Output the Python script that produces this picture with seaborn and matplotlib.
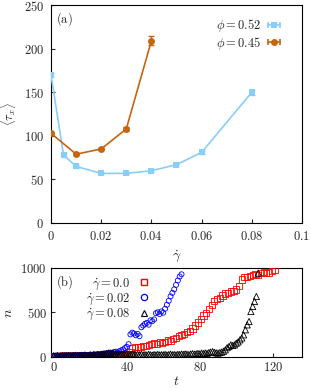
import numpy as np
import pandas as pd
import matplotlib
matplotlib.use("Agg")
import matplotlib.pyplot as plt
import seaborn as sns
from matplotlib.lines import Line2D
from matplotlib.legend_handler import HandlerTuple, HandlerLine2D

# panel (a): mean tau_x vs shear rate
rate_052 = [0.0, 0.005, 0.01, 0.02, 0.03, 0.04, 0.05, 0.06, 0.08]
tau_052 = [170, 78, 65, 57, 57, 60, 67, 81, 150]
err_052 = [2, 2, 2, 1, 1, 1, 1, 2, 3]
rate_045 = [0.0, 0.01, 0.02, 0.03, 0.04]
tau_045 = [103, 79, 85, 108, 209]
err_045 = [2, 1, 1, 2, 5]

# panel (b): n vs t
t_00 = [0, 1, 2, 3, 4, 5, 6, 7, 8, 9,
        10, 11, 12, 13, 14, 15, 16, 17, 18, 19,
        20, 21, 22, 23, 24, 25, 26, 27, 28, 29,
        30, 31, 32, 33, 34, 35, 36, 37, 38, 39,
        40, 41, 42,
        43, 44.5, 46, 47.5, 49, 50.5, 52, 53.5, 55, 56.5,
        58, 59.5, 61, 62.5, 64, 65.5, 67, 68.5, 70, 71.5,
        73, 74.5, 76, 77.5, 79, 80.5, 82, 83.5, 85, 86.5,
        88, 89.5, 91, 92.5, 94, 95.5, 97, 98.5, 100, 101.5,
        103, 104.5, 106, 107.5, 109, 110.5, 112, 113.5, 115, 116.5,
        118, 119.5, 121]
n_00 = [5, 8, 3, 10, 6, 12, 4, 9, 7, 11,
        6, 10, 8, 14, 9, 12, 7, 15, 10, 13,
        11, 16, 9, 14, 18, 12, 15, 20, 13, 17,
        22, 15, 19, 25, 18, 21, 16, 24, 20, 28,
        25, 30, 45,
        100, 110, 112, 108, 122, 120, 133, 138, 148, 145,
        160, 155, 168, 180, 178, 195, 210, 228, 245, 255,
        275, 292, 318, 350, 385, 425, 465, 495, 535, 580,
        625, 648, 662, 690, 712, 720, 735, 742, 758, 800,
        870, 895, 900, 915, 920, 930, 922, 948, 955, 942,
        950, 968, 982]

t_002 = [0, 1, 2, 3, 4, 5, 6, 7, 8, 9,
         10, 11, 12, 13, 14, 15, 16, 17, 18, 19,
         20, 21, 22, 23, 24, 25, 26, 27, 28, 29,
         30, 31, 32, 33, 34, 35, 36, 37, 38, 39,
         40, 41, 42, 43, 44, 45, 46, 47, 48, 49,
         50, 51, 52, 53, 54, 55, 56, 57, 58, 59,
         60, 61, 62, 63, 64, 65, 66, 67, 68, 69,
         70]
n_002 = [8, 5, 12, 6, 10, 4, 9, 14, 7, 11,
         10, 15, 8, 13, 17, 9, 16, 20, 12, 18,
         22, 15, 25, 19, 28, 23, 30, 26, 35, 31,
         40, 45, 38, 50, 55, 48, 60, 70, 80, 95,
         110, 140, 250, 270, 260, 240, 255, 230, 330, 350,
         370, 380, 360, 410, 400, 420, 490, 500, 480, 510,
         495, 540, 585, 630, 680, 720, 760, 810, 860, 905,
         930]

t_008 = [0, 1, 2, 3, 4, 5, 6, 7, 8, 9,
         10, 11, 12, 13, 14, 15, 16, 17, 18, 19,
         20, 21, 22, 23, 24, 25, 26, 27, 28, 29,
         30, 31, 32, 33, 34, 35, 36, 37, 38, 39,
         40, 41, 42, 43, 44, 45, 46, 47, 48, 49,
         50, 51, 52, 53, 54, 55, 56, 57, 58, 59,
         60, 61, 62, 63, 64, 65, 66, 67, 68, 69,
         70, 71, 72, 73, 74, 75, 76, 77, 78, 79,
         80, 81, 82, 83, 84, 85, 86, 87, 88, 89,
         90, 91, 92, 93, 94, 95, 96, 97, 98, 99,
         100, 101, 102, 103, 104, 105, 106, 107, 108, 109,
         110, 111, 112]
n_008 = [10, 6, 12, 8, 5, 11, 9, 7, 13, 10,
         8, 12, 15, 10, 9, 14, 11, 16, 12, 10,
         18, 14, 20, 16, 22, 18, 25, 30, 28, 35,
         40, 32, 38, 30, 28, 25, 22, 26, 20, 24,
         30, 25, 20, 28, 22, 18, 24, 20, 26, 19,
         22, 18, 25, 20, 16, 22, 19, 24, 18, 21,
         20, 24, 18, 22, 26, 20, 23, 19, 25, 22,
         28, 24, 30, 26, 22, 28, 32, 27, 30, 35,
         30, 38, 34, 40, 36, 45, 50, 55, 48, 42,
         38, 45, 50, 60, 76, 100, 113, 132, 125, 132,
         151, 165, 189, 210, 245, 302, 358, 396, 509, 566,
         622, 679, 943]

xticks_a = [0, 0.02, 0.04, 0.06, 0.08, 0.1]
xticklabels_a = ["0", "0.02", "0.04", "0.06", "0.08", "0.1"]
yticks_a = [0, 50, 100, 150, 200, 250]
xticks_b = [0, 40, 80, 120]
yticks_b = [0, 500, 1000]

blue_a = "#87cefa"
orange_a = "#c5650f"

sns.set_style("ticks")
plt.rcParams["mathtext.fontset"] = "cm"
plt.rcParams["font.family"] = ["DejaVu Serif"]
plt.rcParams["xtick.direction"] = "in"
plt.rcParams["ytick.direction"] = "in"
plt.rcParams["axes.linewidth"] = 0.8
plt.rcParams["axes.edgecolor"] = "black"

FS = 9


def m(s):
    return r"$%s$" % s


fig = plt.figure(figsize=(3.11, 3.88), dpi=100)
ax1 = fig.add_axes([0.164, 0.425, 0.807, 0.562])
ax2 = fig.add_axes([0.164, 0.080, 0.807, 0.229])

# ---- panel (a)
df_a1 = pd.DataFrame({"rate": rate_052, "tau": tau_052})
df_a2 = pd.DataFrame({"rate": rate_045, "tau": tau_045})
sns.lineplot(data=df_a1, x="rate", y="tau", ax=ax1, color=blue_a, lw=1.2,
             marker="s", markersize=5, markeredgewidth=0, zorder=3)
sns.lineplot(data=df_a2, x="rate", y="tau", ax=ax1, color=orange_a, lw=1.2,
             marker="o", markersize=5, markeredgewidth=0, zorder=3)
ax1.errorbar(rate_052, tau_052, yerr=err_052, fmt="none", ecolor=blue_a,
             elinewidth=1, capsize=2, zorder=2)
ax1.errorbar(rate_045, tau_045, yerr=err_045, fmt="none", ecolor=orange_a,
             elinewidth=1, capsize=2, zorder=2)

ax1.set_xlim(0, 0.1)
ax1.set_ylim(0, 250)
ax1.set_xticks(xticks_a)
ax1.set_xticklabels([m(s) for s in xticklabels_a], fontsize=FS)
ax1.set_yticks(yticks_a)
ax1.set_yticklabels([m(v) for v in yticks_a], fontsize=FS)
ax1.tick_params(length=3, width=0.8, pad=5)
ax1.set_xlabel(m(r"\dot{\gamma}"), fontsize=FS + 1, labelpad=4)
ax1.set_ylabel(m(r"\langle \tau_x \rangle"), fontsize=FS, labelpad=4)
ax1.text(0.02, 0.975, m(r"\mathrm{(a)}"), transform=ax1.transAxes,
         fontsize=FS, va="top", ha="left")

# legend symbol: marker on a short horizontal bar with end caps
h1_bar = Line2D([], [], color=blue_a, marker="|", markersize=5, mew=1.2,
                ls="-", lw=1.2)
h1_pt = Line2D([], [], color=blue_a, marker="s", markersize=5, ls="none", mew=0)
h2_bar = Line2D([], [], color=orange_a, marker="|", markersize=5, mew=1.2,
                ls="-", lw=1.2)
h2_pt = Line2D([], [], color=orange_a, marker="o", markersize=5, ls="none", mew=0)
hmap = {tuple: HandlerTuple(ndivide=1, pad=0),
        h1_bar: HandlerLine2D(numpoints=2, marker_pad=0.05),
        h2_bar: HandlerLine2D(numpoints=2, marker_pad=0.05),
        h1_pt: HandlerLine2D(numpoints=1), h2_pt: HandlerLine2D(numpoints=1)}
ax1.legend([(h1_bar, h1_pt), (h2_bar, h2_pt)],
           [m(r"\phi = 0.52"), m(r"\phi = 0.45")],
           handler_map=hmap, loc="upper right", frameon=False,
           markerfirst=False, fontsize=FS, handlelength=1.1,
           handletextpad=0.5, labelspacing=0.05,
           borderaxespad=0.3, bbox_to_anchor=(0.95, 0.985))

# ---- panel (b)
sns.scatterplot(x=t_00, y=n_00, ax=ax2, marker="s", s=20,
                facecolor="none", edgecolor="red", linewidth=0.6, zorder=3)
sns.scatterplot(x=t_002, y=n_002, ax=ax2, marker="o", s=13,
                facecolor="none", edgecolor="blue", linewidth=0.6, zorder=3)
sns.scatterplot(x=t_008, y=n_008, ax=ax2, marker="^", s=20,
                facecolor="none", edgecolor="black", linewidth=0.6, zorder=3)

ax2.set_xlim(-1.5, 136)
ax2.set_ylim(-5, 1000)
ax2.set_xticks(xticks_b)
ax2.set_xticklabels([m(v) for v in xticks_b], fontsize=FS)
ax2.set_yticks(yticks_b)
ax2.set_yticklabels([m(v) for v in yticks_b], fontsize=FS)
ax2.tick_params(length=3, width=0.8, pad=3)
ax2.set_xlabel(m("t"), fontsize=FS + 1, labelpad=0)
ax2.set_ylabel(m("n"), fontsize=FS + 1, labelpad=4)
ax2.text(0.02, 0.94, m(r"\mathrm{(b)}"), transform=ax2.transAxes,
         fontsize=FS, va="top", ha="left")

hb = [Line2D([], [], color="red", marker="s", ls="none", markersize=5,
             markerfacecolor="none", markeredgecolor="red", mew=1.0),
      Line2D([], [], color="blue", marker="o", ls="none", markersize=4.5,
             markerfacecolor="none", markeredgecolor="blue", mew=0.9),
      Line2D([], [], color="black", marker="^", ls="none", markersize=5,
             markerfacecolor="none", markeredgecolor="black", mew=0.8)]
ax2.legend(hb, [m(r"\dot{\gamma} = 0.0"), m(r"\dot{\gamma} = 0.02"),
                m(r"\dot{\gamma} = 0.08")],
           loc="upper left", bbox_to_anchor=(0.11, 0.99), frameon=False,
           markerfirst=False, fontsize=FS, handlelength=1.0,
           handletextpad=0.6, labelspacing=0.0, borderaxespad=0.2)

fig.savefig("out.png", dpi=100)
